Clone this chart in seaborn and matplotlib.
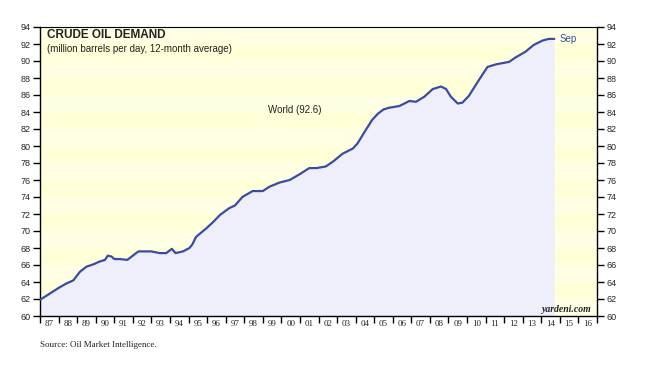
import matplotlib
matplotlib.use("Agg")
import matplotlib.pyplot as plt
import seaborn as sns
import pandas as pd
import numpy as np
from matplotlib.ticker import FixedLocator, NullFormatter, FixedFormatter

years = [1987.0, 1987.5, 1988.0, 1988.4, 1988.8, 1989.15, 1989.5, 1989.9, 1990.2, 1990.5,
         1990.65, 1990.85, 1991.0, 1991.3, 1991.7, 1992.0, 1992.3, 1992.7, 1993.0, 1993.45,
         1993.8, 1994.1, 1994.3, 1994.7, 1995.05, 1995.2, 1995.4, 1995.95, 1996.3, 1996.7,
         1997.2, 1997.5, 1997.9, 1998.45, 1999.0, 1999.35, 1999.9, 2000.45, 2001.0, 2001.5,
         2001.9, 2002.4, 2002.8, 2003.3, 2003.85, 2004.1, 2004.55, 2004.9, 2005.2, 2005.5,
         2005.8, 2006.35, 2006.9, 2007.25, 2007.7, 2008.15, 2008.6, 2008.87, 2009.13, 2009.5,
         2009.75, 2010.1, 2010.65, 2011.1, 2011.55, 2012.27, 2012.6, 2013.15, 2013.6, 2014.06,
         2014.4, 2014.7]
demand = [61.9, 62.6, 63.3, 63.8, 64.2, 65.2, 65.8, 66.1, 66.4, 66.6,
          67.1, 67.0, 66.7, 66.7, 66.6, 67.1, 67.6, 67.6, 67.6, 67.4,
          67.4, 67.9, 67.4, 67.6, 68.0, 68.4, 69.3, 70.3, 71.0, 71.9,
          72.7, 73.0, 74.0, 74.7, 74.7, 75.2, 75.7, 76.0, 76.7, 77.4,
          77.4, 77.6, 78.2, 79.1, 79.7, 80.3, 81.9, 83.1, 83.8, 84.3,
          84.5, 84.7, 85.3, 85.2, 85.8, 86.7, 87.0, 86.7, 85.8, 85.0,
          85.1, 85.9, 87.8, 89.3, 89.6, 89.9, 90.4, 91.1, 91.9, 92.4,
          92.6, 92.6]
year_labels = ["87", "88", "89", "90", "91", "92", "93", "94", "95", "96", "97", "98", "99",
               "00", "01", "02", "03", "04", "05", "06", "07", "08", "09", "10", "11", "12",
               "13", "14", "15", "16"]
y_ticks = list(range(60, 95, 2))

df = pd.DataFrame({"year": years, "demand": demand})

sns.set_style("white")
plt.rcParams['font.family'] = ['Liberation Sans', 'DejaVu Sans']

fig = plt.figure(figsize=(6.46, 3.67), dpi=100)
ax = fig.add_axes([40/646, 1-316/367, 557/646, 289/367])

ax.set_xlim(1987, 2017)
ax.set_ylim(60, 94)
ax.set_facecolor("#FFFFDC")
for i, y0 in enumerate(range(60, 94, 2)):
    ax.axhspan(y0, y0 + 2, color="#FFFFE3" if i % 2 == 0 else "#FFFFD8", lw=0, zorder=0)

ax.fill_between(df["year"], 60, df["demand"], color="#EEEFFA", lw=0, zorder=1)
sns.lineplot(data=df, x="year", y="demand", ax=ax, color="#3A4CA0", lw=1.6, zorder=3)
ax.set_xlabel("")
ax.set_ylabel("")

# spines
for s in ["left", "right", "bottom"]:
    ax.spines[s].set_visible(True)
    ax.spines[s].set_color("black")
    ax.spines[s].set_linewidth(1.0)
ax.spines["top"].set_visible(True)
ax.spines["top"].set_linestyle((0, (1, 1)))
ax.spines["top"].set_color("black")
ax.spines["top"].set_linewidth(0.8)

# x ticks
ax.xaxis.set_major_locator(FixedLocator(list(range(1987, 2018))))
ax.xaxis.set_major_formatter(NullFormatter())
ax.xaxis.set_minor_locator(FixedLocator([1987.5 + i for i in range(len(year_labels))]))
ax.xaxis.set_minor_formatter(FixedFormatter(year_labels))
ax.tick_params(axis="x", which="major", direction="out", length=5, width=1, bottom=True, color="black")
ax.tick_params(axis="x", which="minor", length=0, pad=3, labelsize=6.5, labelfontfamily="Liberation Serif", bottom=True)

# y ticks
ax.set_yticks(y_ticks)
ax.set_yticklabels([str(v) for v in y_ticks])
ax.tick_params(axis="y", which="major", direction="out", length=5, width=1, left=True, right=True,
               labelleft=True, labelright=True, labelsize=6.5, pad=2, color="black")
ax.grid(False)

# texts
fig.text(47/646, 1-35/367, "CRUDE OIL DEMAND", fontsize=8.5, fontweight="bold", color="#222222",
         va="center", ha="left")
fig.text(47/646, 1-49/367, "(million barrels per day, 12-month average)", fontsize=7, color="#222222",
         va="center", ha="left")
fig.text(268/646, 1-110/367, "World (92.6)", fontsize=7, color="#222222", va="center", ha="left")
ax.annotate("Sep", xy=(years[-1], demand[-1]), xytext=(4, 0), textcoords="offset points",
            fontsize=7, color="#3A4CA0", va="center", ha="left")
fig.text(592/646, 1-310/367, "yardeni.com", fontsize=7, fontweight="bold", fontstyle="italic",
         family="Liberation Serif", color="#222222", va="center", ha="right")
fig.text(40/646, 1-345/367, "Source: Oil Market Intelligence.", fontsize=6.5, family="Liberation Serif",
         color="#222222", va="center", ha="left")

fig.savefig("out.png", dpi=100)
